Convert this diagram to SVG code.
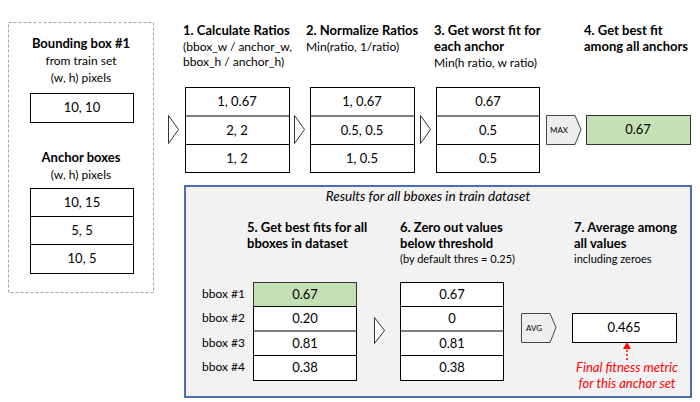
<svg xmlns="http://www.w3.org/2000/svg" width="700" height="402" viewBox="0 0 700 402">
<defs>
<style>
text{font-family:Lato,"Open Sans","Liberation Sans",sans-serif;fill:#000}
.h{font-weight:bold;font-size:13px}
.s{font-size:12px}
.xs{font-size:11px}
.v{font-size:13px;text-anchor:middle}
.c{text-anchor:middle}
.box{fill:#fff;stroke:#000;stroke-width:1}
.grn{fill:#c5e0b4;stroke:#333;stroke-width:1}
.chev{fill:#fff;stroke:#333;stroke-width:1}
.tag{fill:#eeeeee;stroke:#444;stroke-width:1}
.tagt{font-size:8px;text-anchor:middle}
.red{fill:#ff0000;font-style:italic;font-size:13px;text-anchor:middle}
</style>
</defs>
<rect width="700" height="402" fill="#fff"/>

<g id="input">
<rect x="8.5" y="22.5" width="145" height="270" fill="#fff" stroke="#a6a6a6" stroke-dasharray="3,2"/>
<text class="h c" x="81" y="48">Bounding box #1</text>
<text class="s c" x="81" y="65">from train set</text>
<text class="s c" x="81" y="82">(w, h) pixels</text>
<rect class="box" x="30.5" y="93.5" width="103" height="29"/>
<text class="v" x="82" y="112">10, 10</text>
<text class="h c" x="81" y="162">Anchor boxes</text>
<text class="s c" x="81" y="179">(w, h) pixels</text>
<rect class="box" x="30.5" y="188.5" width="103" height="85"/>
<line x1="30.5" y1="216.5" x2="133.5" y2="216.5" stroke="#000"/>
<line x1="30.5" y1="244.5" x2="133.5" y2="244.5" stroke="#000"/>
<text class="v" x="82" y="207">10, 15</text>
<text class="v" x="82" y="235">5, 5</text>
<text class="v" x="82" y="263">10, 5</text>
</g>

<g id="step1">
<text class="h" x="183" y="35">1. Calculate Ratios</text>
<text class="s" x="183" y="51">(bbox_w / anchor_w,</text>
<text class="s" x="183" y="66">bbox_h / anchor_h)</text>
<rect class="box" x="185.5" y="87.5" width="104" height="85"/>
<line x1="185.5" y1="116" x2="289.5" y2="116" stroke="#000"/>
<line x1="185.5" y1="144.5" x2="289.5" y2="144.5" stroke="#000"/>
<text class="v" x="237" y="106">1, 0.67</text>
<text class="v" x="237" y="135">2, 2</text>
<text class="v" x="237" y="163">1, 2</text>
</g>

<g id="step2">
<text class="h" x="306" y="35">2. Normalize Ratios</text>
<text class="s" x="306" y="51">Min(ratio, 1/ratio)</text>
<rect class="box" x="310.5" y="87.5" width="104" height="85"/>
<line x1="310.5" y1="116" x2="414.5" y2="116" stroke="#000"/>
<line x1="310.5" y1="144.5" x2="414.5" y2="144.5" stroke="#000"/>
<text class="v" x="362" y="106">1, 0.67</text>
<text class="v" x="362" y="135">0.5, 0.5</text>
<text class="v" x="362" y="163">1, 0.5</text>
</g>

<g id="step3">
<text class="h" x="434" y="35">3. Get worst fit for</text>
<text class="h" x="434" y="51">each anchor</text>
<text class="s" x="434" y="67">Min(h ratio, w ratio)</text>
<rect class="box" x="436.5" y="87.5" width="103" height="85"/>
<line x1="436.5" y1="116" x2="539.5" y2="116" stroke="#000"/>
<line x1="436.5" y1="144.5" x2="539.5" y2="144.5" stroke="#000"/>
<text class="v" x="488" y="106">0.67</text>
<text class="v" x="488" y="135">0.5</text>
<text class="v" x="488" y="163">0.5</text>
</g>

<g id="step4">
<text class="h" x="584" y="35">4. Get best fit</text>
<text class="h" x="584" y="51">among all anchors</text>
<rect class="grn" x="586.5" y="115.5" width="104" height="29"/>
<text class="v" x="638" y="134">0.67</text>
</g>

<g id="panel">
<rect x="185" y="186" width="506" height="211" fill="#f2f2f2" stroke="#4a6fb0" stroke-width="2"/>
<text class="c" x="428" y="201" style="font-style:italic;font-size:13.5px">Results for all bboxes in train dataset</text>
</g>

<g id="step5">
<text class="h" x="247" y="232">5. Get best fits for all</text>
<text class="h" x="247" y="248">bboxes in dataset</text>
<text class="s" x="202" y="298">bbox #1</text>
<text class="s" x="202" y="322">bbox #2</text>
<text class="s" x="202" y="347">bbox #3</text>
<text class="s" x="202" y="371">bbox #4</text>
<rect class="box" x="253.5" y="282.5" width="103" height="98"/>
<rect class="grn" x="253.5" y="282.5" width="103" height="24" stroke="#000"/>
<line x1="253.5" y1="306.5" x2="356.5" y2="306.5" stroke="#000"/>
<line x1="253.5" y1="331" x2="356.5" y2="331" stroke="#000"/>
<line x1="253.5" y1="355.5" x2="356.5" y2="355.5" stroke="#000"/>
<text class="v" x="305" y="299">0.67</text>
<text class="v" x="305" y="323">0.20</text>
<text class="v" x="305" y="348">0.81</text>
<text class="v" x="305" y="372">0.38</text>
</g>

<g id="step6">
<text class="h" x="400" y="232">6. Zero out values</text>
<text class="h" x="400" y="248">below threshold</text>
<text class="xs" x="400" y="263">(by default thres = 0.25)</text>
<rect class="box" x="400.5" y="282.5" width="103" height="98"/>
<line x1="400.5" y1="306.5" x2="503.5" y2="306.5" stroke="#000"/>
<line x1="400.5" y1="331" x2="503.5" y2="331" stroke="#000"/>
<line x1="400.5" y1="355.5" x2="503.5" y2="355.5" stroke="#000"/>
<text class="v" x="452" y="299">0.67</text>
<text class="v" x="452" y="323">0</text>
<text class="v" x="452" y="348">0.81</text>
<text class="v" x="452" y="372">0.38</text>
</g>

<g id="step7">
<text class="h" x="574" y="232">7. Average among</text>
<text class="h" x="574" y="248">all values</text>
<text class="xs" x="574" y="263">including zeroes</text>
<rect class="box" x="572.5" y="313.5" width="104" height="29"/>
<text class="v" x="624" y="332">0.465</text>
<text class="red" x="627" y="372">Final fitness metric</text>
<text class="red" x="627" y="388">for this anchor set</text>
</g>

<g id="connectors">
<polygon class="chev" points="168.5,115.5 178.5,129.5 168.5,143.5"/>
<polygon class="chev" points="294.5,115.5 304.5,129.5 294.5,143.5"/>
<polygon class="chev" points="420.5,115.5 430.5,129.5 420.5,143.5"/>
<polygon class="tag" points="546.5,115.5 575,115.5 581,129.5 575,144.5 546.5,144.5"/>
<text class="tagt" x="559" y="133">MAX</text>
<polygon class="chev" points="374.5,317.5 384.5,330.5 374.5,343.5"/>
<polygon class="tag" points="521.5,313.5 550,313.5 556,327.5 550,342.5 521.5,342.5"/>
<text class="tagt" x="534" y="331">AVG</text>
<polygon points="623,349 631,349 627,342" fill="#ff0000"/>
<line x1="627" y1="350" x2="627" y2="360" stroke="#ff0000" stroke-width="1.5" stroke-dasharray="2,2"/>
</g>
</svg>
